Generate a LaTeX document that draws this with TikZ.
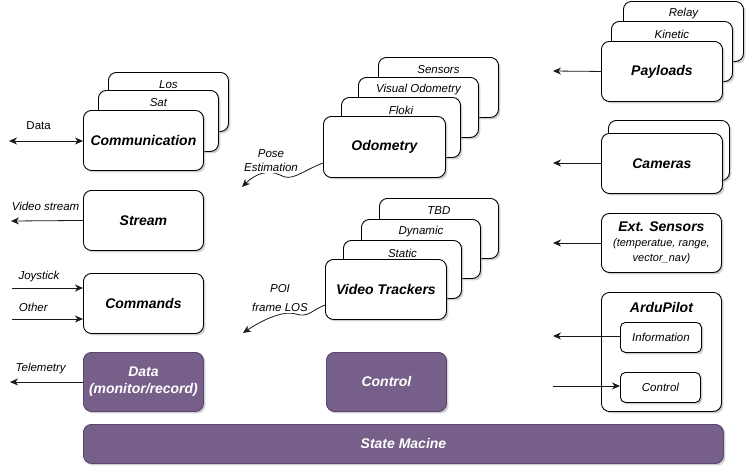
\documentclass[tikz,border=0pt]{standalone}
\usepackage{fontspec}
\setmainfont{Liberation Sans}
\usetikzlibrary{shadows,arrows.meta}
\definecolor{purp}{HTML}{76608A}
\definecolor{purpd}{HTML}{5A4470}
\begin{document}
\begin{tikzpicture}[x=1pt,y=-1pt,
  sz/.style 2 args={minimum width=#1pt, minimum height=#2pt},
  box/.style={draw=black, fill=white, rounded corners=8pt, line width=0.9pt,
    drop shadow={shadow xshift=2pt,shadow yshift=-2pt,fill=black!40,opacity=0.45},
    anchor=north west, inner sep=0pt, align=center,
    font=\fontsize{14}{17}\selectfont\bfseries\itshape},
  pbox/.style={box, fill=purp, draw=purpd, text=white},
  sbox/.style={box, rounded corners=5pt, font=\fontsize{11.5}{13}\selectfont\itshape},
  sub/.style={font=\fontsize{11.5}{13}\selectfont\itshape, inner sep=1pt},
  lab/.style={font=\fontsize{11.5}{13}\selectfont\itshape, inner sep=1pt},
  elab/.style={font=\fontsize{11.5}{13}\selectfont\itshape, inner sep=1pt, fill=white, align=center},
  tip/.tip={Stealth[length=8pt,width=7pt,inset=2.5pt]},
  arr/.style={-tip, line width=0.8pt, draw=black!90},
]
\useasboundingbox (0,0) rectangle (746,467);

% ---- Communication stack
\node[box, sz={120}{59}, label={[sub,anchor=center,yshift=-13pt]north:Los}] (los) at (108,72) {};
\node[box, sz={120}{61}, label={[sub,anchor=center,yshift=-13pt]north:Sat}] (sat) at (98,90) {};
\node[box, sz={120}{60}] (comm) at (83,110) {Communication};
\node[box, sz={120}{60}] (stream) at (83,190) {Stream};
\node[box, sz={120}{60}] (cmds) at (83,273) {Commands};
\node[pbox, sz={120}{59}] (data) at (83,352) {Data\\(monitor/record)};

% ---- Odometry stack
\node[box, sz={120}{60}, label={[sub,anchor=center,yshift=-13pt]north:Sensors}] (sens) at (378,57) {};
\node[box, sz={120}{60}, label={[sub,anchor=center,yshift=-13pt]north:Visual Odometry}] (vo) at (358,77) {};
\node[box, sz={119}{60}, label={[sub,anchor=center,yshift=-13pt]north:Floki}] (floki) at (341,97) {};
\node[box, sz={122}{61}] (odom) at (323,116) {Odometry};

% ---- Video trackers stack
\node[box, sz={119}{60}, label={[sub,anchor=center,yshift=-13pt]north:TBD}] (tbd) at (379,198) {};
\node[box, sz={119}{59}, label={[sub,anchor=center,yshift=-13pt]north:Dynamic}] (dyn) at (361,219) {};
\node[box, sz={118}{58}, label={[sub,anchor=center,yshift=-13pt]north:Static}] (stat) at (343,240) {};
\node[box, sz={121}{60}] (vt) at (325,259) {Video Trackers};
\node[pbox, sz={120}{59}] (ctrl) at (326,352) {Control};

% ---- Right column
\node[box, sz={120}{60}, label={[sub,anchor=center,yshift=-13pt]north:Relay}] (relay) at (623,1) {};
\node[box, sz={121}{60}, label={[sub,anchor=center,yshift=-13pt]north:Kinetic}] (kin) at (611,21) {};
\node[box, sz={121}{60}] (pay) at (601,41) {Payloads};
\node[box, sz={121}{60}] (camb) at (608,120) {};
\node[box, sz={121}{60}] (cam) at (601,133) {Cameras};
\node[box, sz={120}{59}] (ext) at (601,213) {Ext. Sensors\\[-2pt]{\fontsize{11}{14}\selectfont\mdseries\itshape (temperatue, range,}\\[-2pt]{\fontsize{11}{14}\selectfont\mdseries\itshape vector\_nav)}};
\node[box, sz={120}{119}, label={[anchor=center,yshift=-15pt,font=\fontsize{14}{17}\selectfont\bfseries\itshape]north:ArduPilot}] (ardu) at (601,292) {};
\node[sbox, sz={81}{30}] (info) at (620,322) {Information};
\node[sbox, sz={80}{30}] (actl) at (620,372) {Control};

% ---- State machine
\node[pbox, sz={640}{39}] (sm) at (83,424) {State Macine};

% ---- free ends
\coordinate (dataL) at (9,141);
\coordinate (streamL) at (11,221);
\coordinate (joyL) at (12,288);
\coordinate (othL) at (12,319);
\coordinate (telL) at (10,382);
\coordinate (poseE) at (242,187);
\coordinate (poiE) at (243,333);
\coordinate (payE) at (553,71);
\coordinate (camE) at (553,163);
\coordinate (extE) at (553,243);
\coordinate (infoE) at (553,336);
\coordinate (actlS) at (553,386);

% ---- connectors
\draw[arr, tip-tip] (dataL) -- node[pos=0.4, above=10pt, lab, font=\fontsize{11.5}{13}\selectfont] {Data} (dataL -| comm.west);
\draw[arr] (stream.west) -- node[pos=0.52, above=9pt, lab] {Video stream} (streamL);
\draw[arr] (joyL) -- node[pos=0.38, above=5pt, lab] {Joystick} (joyL -| cmds.west);
\draw[arr] (othL) -- node[pos=0.3, above=6pt, lab] {Other} (othL -| cmds.west);
\draw[arr] (data.west |- telL) -- node[pos=0.58, above=7pt, lab] {Telemetry} (telL);

\draw[arr] (odom.west |- 0,163) .. controls (300,172) and (292,182) .. (280,175)
   .. controls (268,169) and (255,174) .. (poseE);
\node[elab] at (271,161) {Pose\\[1pt]Estimation};
\draw[arr] (vt.west |- 0,305) .. controls (312,310) and (308,318) .. (296,314)
   .. controls (284,310) and (262,320) .. (poiE);
\node[elab] at (280,298) {POI\\[6pt]frame LOS};

\draw[arr] (pay.west) -- (payE);
\draw[arr] (cam.west |- camE) -- (camE);
\draw[arr] (ext.west |- extE) -- (extE);
\draw[arr] (info.west |- infoE) -- (infoE);
\draw[arr] (actlS) -- (actlS -| actl.west);
\end{tikzpicture}
\end{document}
